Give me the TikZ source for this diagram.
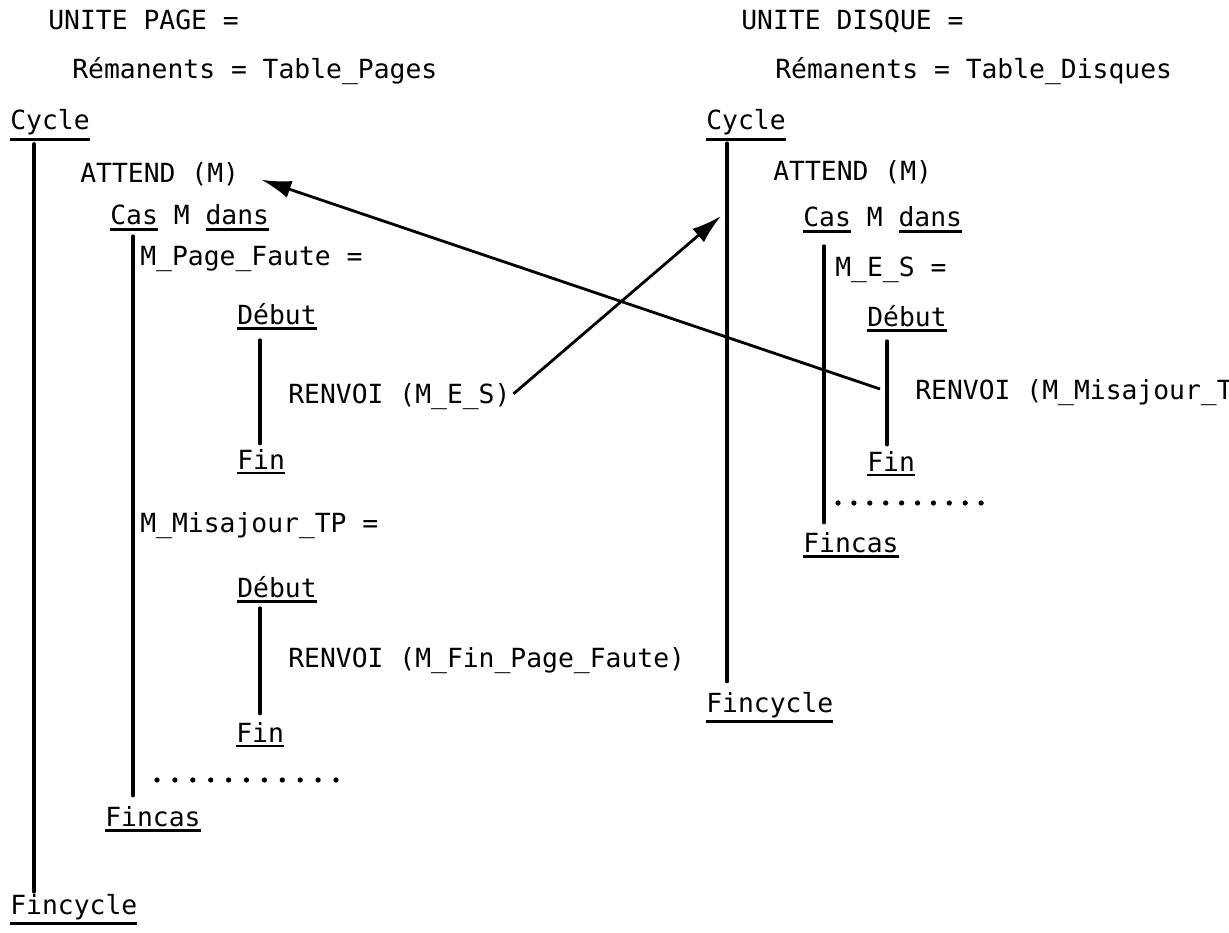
\documentclass[tikz,border=0pt]{standalone}
\usepackage{fontspec}
\usepackage{tikz}
\usetikzlibrary{arrows.meta}
\newfontfamily\machine{DejaVu Sans Mono}
\newcommand\souligne[1]{\leavevmode\vtop{\hbox{#1}\kern1.7pt\hrule height 1.4pt}}

\begin{document}
\begin{tikzpicture}[
  x=0.02cm,y=-0.02cm,
  txt/.style={anchor=base west,inner sep=0pt,
    font=\machine\fontsize{15pt}{17pt}\selectfont},
  rail/.style={line width=2.1pt,line cap=round},
  arr/.style={-{Latex[length=17pt,width=10pt]},line width=1.6pt},
  dot/.style={fill=black}
]
\useasboundingbox (0,0) rectangle (1229,932);
\clip (0,0) rectangle (1229,932);
% unite page
\node[txt] (unitp) at (48,30) {UNITE PAGE =};
\node[txt] (remp) at (72,79) {Rémanents = Table\_Pages};
\node[txt] (cycp) at (10,130) {\souligne{Cycle}};
\node[txt] (attp) at (80,183) {ATTEND (M)};
\node[txt] (casp) at (110,225) {\souligne{Cas} M \souligne{dans}};
\node[txt] (fautep) at (140,266) {M\_Page\_Faute =};
\node[txt] (debp1) at (237,324) {\souligne{Début}};
\node[txt] (renvp1) at (288,403) {RENVOI (M\_E\_S)};
\node[txt] (finp1) at (237,469) {\souligne{Fin}};
\node[txt] (majp) at (140,532) {M\_Misajour\_TP =};
\node[txt] (debp2) at (237,597) {\souligne{Début}};
\node[txt] (renvp2) at (288,667) {RENVOI (M\_Fin\_Page\_Faute)};
\node[txt] (finp2) at (236,742) {\souligne{Fin}};
\node[txt] (fcasp) at (105,826) {\souligne{Fincas}};
\node[txt] (fcycp) at (10,914) {\souligne{Fincycle}};
% unite disque
\node[txt] (unitd) at (741,30) {UNITE DISQUE =};
\node[txt] (remd) at (775,79) {Rémanents = Table\_Disques};
\node[txt] (cycd) at (706,130) {\souligne{Cycle}};
\node[txt] (attd) at (773,181) {ATTEND (M)};
\node[txt] (casd) at (803,227) {\souligne{Cas} M \souligne{dans}};
\node[txt] (esd) at (835,276) {M\_E\_S =};
\node[txt] (debd) at (867,326) {\souligne{Début}};
\node[txt] (renvd) at (915,399) {RENVOI (M\_Misajour\_TP)};
\node[txt] (find) at (867,471) {\souligne{Fin}};
\node[txt] (fcasd) at (803,552) {\souligne{Fincas}};
\node[txt] (fcycd) at (706,712) {\souligne{Fincycle}};
% blocs
\draw[rail,line width=2.5pt] ([shift={(24,3)}]cycp.south west) -- ([shift={(24,-2)}]fcycp.north west);
\draw[rail] ([shift={(23,5)}]casp.south west) -- ([shift={(28,-10)}]fcasp.north west);
\draw[rail] ([shift={(23,10)}]debp1.south west) -- ([shift={(23,-5)}]finp1.north west);
\draw[rail] ([shift={(23,5)}]debp2.south west) -- ([shift={(24,-8)}]finp2.north west);
\draw[rail] ([shift={(21,2)}]cycd.south west) -- ([shift={(21,-10)}]fcycd.north west);
\draw[rail] ([shift={(21,13)}]casd.south west) -- ([shift={(21,-9)}]fcasd.north west);
\draw[rail] ([shift={(20,9)}]debd.south west) -- ([shift={(20,-6)}]find.north west);
\foreach \k in {0,...,10} \fill[dot] (157+17.9*\k,780) circle (1.5pt);
\foreach \k in {0,...,9} \fill[dot] (838+15.9*\k,503) circle (1.5pt);
% renvois
\coordinate (impact) at (721,216);
\coordinate (depart) at (880,389);
\draw[arr,shorten <=2pt] (renvp1.east) -- (impact);
\draw[arr] (depart) -- ([shift={(22,5)}]attp.east);
\end{tikzpicture}
\end{document}
